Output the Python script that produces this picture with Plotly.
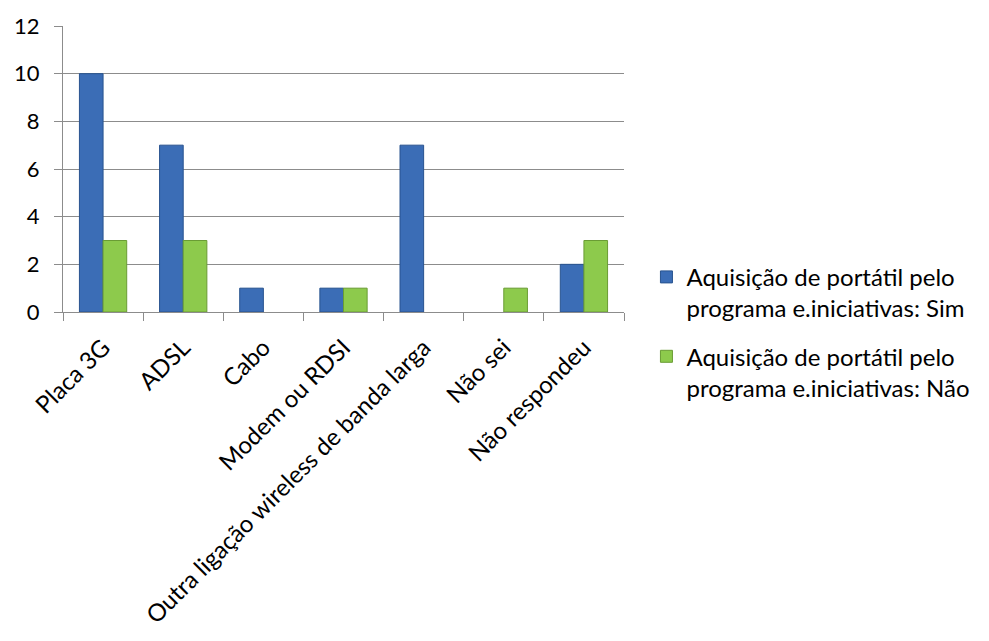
import plotly.graph_objects as go

categories = ["Placa 3G", "ADSL", "Cabo", "Modem ou RDSI",
              "Outra ligação wireless de banda larga", "Não sei", "Não respondeu"]
sim_values = [10, 7, 1, 1, 7, 0, 2]
nao_values = [3, 3, 0, 1, 0, 1, 3]
series_names = ["Aquisição de portátil pelo<br>programa e.iniciativas: Sim",
                "Aquisição de portátil pelo<br>programa e.iniciativas: Não"]
y_ticks = [0, 2, 4, 6, 8, 10, 12]

FONT = "Lato"
fig = go.Figure()
fig.add_trace(go.Bar(x=categories, y=sim_values, name=series_names[0], legendgroup="sim",
                     marker=dict(color="#3B6DB6",
                                 line=dict(color="#28538F",
                                           width=[0 if v == 0 else 1 for v in sim_values]))))
fig.add_trace(go.Bar(x=categories, y=nao_values, name=series_names[1], legendgroup="nao",
                     marker=dict(color="#8DCA4C",
                                 line=dict(color="#6A9C34",
                                           width=[0 if v == 0 else 1 for v in nao_values]))))

fig.update_layout(
    width=989, height=641,
    margin=dict(l=63, r=365, t=22, b=328),
    paper_bgcolor="white", plot_bgcolor="white",
    barmode="group", bargap=0.41, bargroupgap=0,
    font=dict(family=FONT, size=22, color="black"),
    legend=dict(x=1.04, y=0.2, xanchor="left", yanchor="top", valign="top",
                font=dict(size=24, family=FONT), tracegroupgap=14,
                bgcolor="rgba(0,0,0,0)"),
    showlegend=True,
)
fig.update_yaxes(range=[0, 12], tickvals=y_ticks, showgrid=True, gridcolor="#8C8C8C",
                 gridwidth=1, showline=True, linecolor="#8C8C8C", linewidth=1,
                 ticks="outside", ticklen=8, tickcolor="#8C8C8C", zeroline=False,
                 ticklabelstandoff=10, tickfont=dict(size=22, family=FONT))
fig.update_xaxes(showline=True, linecolor="#8C8C8C", linewidth=1,
                 ticks="outside", ticklen=8, tickcolor="#8C8C8C", tickson="boundaries",
                 tickangle=-45, ticklabelstandoff=11, tickfont=dict(size=24, family=FONT))

fig.write_html("out.html")
